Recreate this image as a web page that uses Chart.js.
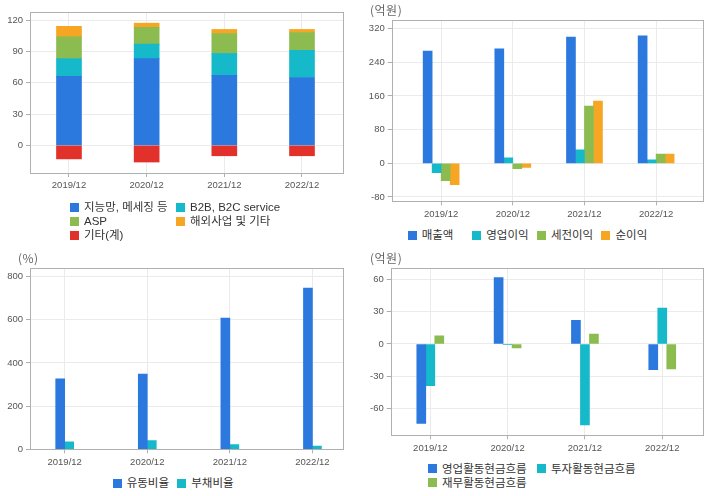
<!DOCTYPE html>
<html>
<head>
<meta charset="utf-8">
<script src="https://cdn.jsdelivr.net/npm/chart.js@4.4.1/dist/chart.umd.min.js"></script>
<style>
  body { margin: 0; background: #fff; width: 720px; height: 496px; position: relative; overflow: hidden; }
  .panel { position: absolute; }
  .unit { position: absolute; font: 12px "Noto Sans CJK KR", sans-serif; color: #666; line-height: 14px; letter-spacing: 0.5px; }
  .legend { position: absolute; display: grid; font: 11.5px "Liberation Sans", "Noto Sans CJK KR", sans-serif; color: #333; }
  .legend div { height: 14px; line-height: 14px; white-space: nowrap; display: flex; align-items: center; }
  .legend span.box { display: inline-block; width: 9px; height: 9px; margin-right: 5px; }
</style>
</head>
<body>
<canvas id="c1" class="panel" width="360" height="200" style="left:0;top:0"></canvas>
<canvas id="c2" class="panel" width="360" height="225" style="left:360px;top:0"></canvas>
<canvas id="c3" class="panel" width="360" height="225" style="left:0;top:248px"></canvas>
<canvas id="c4" class="panel" width="360" height="210" style="left:360px;top:248px"></canvas>

<div class="unit" style="left:370px;top:3px">(억원)</div>
<div class="unit" style="left:18px;top:251px">(%)</div>
<div class="unit" style="left:370px;top:251px">(억원)</div>

<div id="l1" class="legend" style="left:70px;top:200px;grid-template-columns:106px 106px"></div>
<div id="l2" class="legend" style="left:407.7px;top:228px;grid-template-columns:repeat(4,64.6px)"></div>
<div id="l3" class="legend" style="left:112.7px;top:476px;grid-template-columns:repeat(2,64.6px)"></div>
<div id="l4" class="legend" style="left:428px;top:461.7px;grid-template-columns:109px 109px"></div>

<script>
const years = ['2019/12', '2020/12', '2021/12', '2022/12']

// 매출 구성
const jineung = [66, 83, 67, 65]
const b2b = [17, 14, 21, 26]
const asp = [21, 16, 19, 17]
const overseas = [10, 4, 4, 3]
const etc = [-13, -16, -10, -10]
const ticks1 = [0, 30, 60, 90, 120]

// 손익 (억원)
const sales = [267, 272, 300, 303]
const opProfit = [-22, 13, 32, 8]
const preTax = [-41, -13, 136, 22]
const netIncome = [-51, -10, 148, 22]
const ticks2 = [-80, 0, 80, 160, 240, 320]

// 비율 (%)
const currentRatio = [326, 349, 608, 747]
const debtRatio = [35, 40, 22, 15]
const ticks3 = [0, 200, 400, 600, 800]

// 현금흐름 (억원)
const opCF = [-74, 62, 22, -24]
const invCF = [-39, -0.6, -75.5, 33.5]
const finCF = [7.5, -3.7, 9.3, -23.3]
const ticks4 = [-60, -30, 0, 30, 60]

const BLUE = '#2b79de', CYAN = '#16b9c9', GREEN = '#8cbc4f', ORANGE = '#f6a623', RED = '#e2302a'

const frame = {
    id: 'frame',
    afterDatasetsDraw(chart) {
        const a = chart.chartArea, ctx = chart.ctx
        ctx.save()
        ctx.strokeStyle = '#b0b0b0'
        ctx.lineWidth = 1
        ctx.strokeRect(Math.round(a.left) + 0.5, Math.round(a.top) + 0.5, Math.round(a.right - a.left), Math.round(a.bottom - a.top))
        ctx.restore()
    }
}

const tickFont = { family: '"Liberation Sans", sans-serif', size: 9.5 }

// x축은 인덱스(0~3)를 쓰는 linear 축, 라벨은 years 에서
function makeChart(id, datasets, opt) {
    return new Chart(document.getElementById(id), {
        type: 'bar',
        data: { labels: years.map((y, i) => i), datasets: datasets },
        plugins: [frame],
        options: {
            responsive: false,
            animation: false,
            layout: { padding: { top: opt.top, right: opt.right, left: 0, bottom: 0 } },
            plugins: { legend: { display: false }, tooltip: { enabled: false } },
            datasets: { bar: { barThickness: opt.bar } },
            scales: {
                x: {
                    type: 'linear',
                    offset: false,
                    min: opt.xmin, max: opt.xmax,
                    stacked: !!opt.stacked,
                    grid: { offset: false, color: '#ebebeb', tickColor: '#b0b0b0', tickLength: 4 },
                    border: { display: false },
                    ticks: { color: '#555', font: tickFont, padding: 3, maxRotation: 0, callback: v => years[v] },
                    afterBuildTicks: s => { s.ticks = years.map((y, i) => ({ value: i })) },
                    afterFit: s => { s.height = opt.xh }
                },
                y: {
                    stacked: !!opt.stacked,
                    min: opt.min, max: opt.max,
                    grid: { color: '#ebebeb', tickColor: '#b0b0b0', tickLength: 4 },
                    border: { display: false },
                    ticks: { color: '#555', font: tickFont, padding: 3 },
                    afterBuildTicks: s => { s.ticks = opt.ticks.map(v => ({ value: v })) },
                    afterFit: s => { s.width = opt.yw }
                }
            }
        }
    })
}

function htmlLegend(chart, elId) {
    const el = document.getElementById(elId)
    chart.data.datasets.forEach(ds => {
        const item = document.createElement('div')
        const box = document.createElement('span')
        box.className = 'box'
        box.style.background = ds.backgroundColor
        const txt = document.createElement('span')
        txt.textContent = ds.label
        item.appendChild(box)
        item.appendChild(txt)
        el.appendChild(item)
    })
}

const ch1 = makeChart('c1', [
    { label: '지능망, 메세징 등', data: jineung, backgroundColor: BLUE },
    { label: 'B2B, B2C service', data: b2b, backgroundColor: CYAN },
    { label: 'ASP', data: asp, backgroundColor: GREEN },
    { label: '해외사업 및 기타', data: overseas, backgroundColor: ORANGE },
    { label: '기타(계)', data: etc, backgroundColor: RED }
], { stacked: true, bar: 25, top: 12, right: 17, yw: 30, xh: 27, min: -26.5, max: 127.7, ticks: ticks1, xmin: -0.502, xmax: 3.528 })

const ch2 = makeChart('c2', [
    { label: '매출액', data: sales, backgroundColor: BLUE },
    { label: '영업이익', data: opProfit, backgroundColor: CYAN },
    { label: '세전이익', data: preTax, backgroundColor: GREEN },
    { label: '순이익', data: netIncome, backgroundColor: ORANGE }
], { bar: 9, top: 20, right: 17.3, yw: 31.7, xh: 23.7, min: -90.3, max: 340.6, ticks: ticks2, xmin: -0.69, xmax: 3.65 })

const ch3 = makeChart('c3', [
    { label: '유동비율', data: currentRatio, backgroundColor: BLUE },
    { label: '부채비율', data: debtRatio, backgroundColor: CYAN }
], { bar: 9, top: 20, right: 17, yw: 30, xh: 23.7, min: 0, max: 840, ticks: ticks3, xmin: -0.42, xmax: 3.37 })

const ch4 = makeChart('c4', [
    { label: '영업활동현금흐름', data: opCF, backgroundColor: BLUE },
    { label: '투자활동현금흐름', data: invCF, backgroundColor: CYAN },
    { label: '재무활동현금흐름', data: finCF, backgroundColor: GREEN }
], { bar: 9, top: 20, right: 17.3, yw: 30.7, xh: 22.7, min: -85.2, max: 70.9, ticks: ticks4, xmin: -0.512, xmax: 3.523 })

htmlLegend(ch1, 'l1')
htmlLegend(ch2, 'l2')
htmlLegend(ch3, 'l3')
htmlLegend(ch4, 'l4')
</script>
</body>
</html>
